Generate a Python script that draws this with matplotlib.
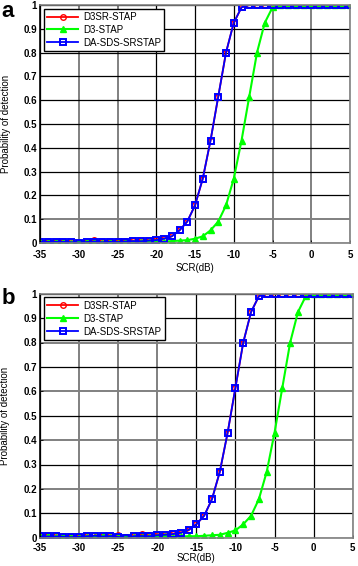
import numpy as np
import matplotlib
matplotlib.use('Agg')
import matplotlib.pyplot as plt

# ---------- data ----------
scr_db = list(range(-35, 6))   # -35 ... 5 dB, step 1

# panel a
a_d3sr = [0.005, 0.005, 0.005, 0.004, 0.003, 0.002, 0.004, 0.012, 0.004, 0.006,
          0.009, 0.010, 0.008, 0.009, 0.010, 0.014, 0.018, 0.028, 0.053, 0.090,
          0.158, 0.270, 0.430, 0.615, 0.800, 0.925, 0.990, 1.0, 1.0, 1.0,
          1.0, 1.0, 1.0, 1.0, 1.0, 1.0, 1.0, 1.0, 1.0, 1.0, 1.0]
a_d3 = [0.005, 0.004, 0.005, 0.003, 0.002, 0.003, 0.006, 0.004, 0.002, 0.003,
        0.002, 0.003, 0.002, 0.003, 0.004, 0.004, 0.006, 0.008, 0.010, 0.012,
        0.018, 0.028, 0.053, 0.090, 0.158, 0.270, 0.430, 0.615, 0.800, 0.925,
        0.990, 1.0, 1.0, 1.0, 1.0, 1.0, 1.0, 1.0, 1.0, 1.0, 1.0]
a_dasds = [0.005, 0.005, 0.005, 0.005, 0.003, 0.002, 0.004, 0.006, 0.003, 0.005,
           0.004, 0.006, 0.008, 0.007, 0.010, 0.012, 0.018, 0.028, 0.053, 0.090,
           0.158, 0.270, 0.430, 0.615, 0.800, 0.925, 0.990, 1.0, 1.0, 1.0,
           1.0, 1.0, 1.0, 1.0, 1.0, 1.0, 1.0, 1.0, 1.0, 1.0, 1.0]

# panel b
b_d3sr = [0.005, 0.005, 0.005, 0.004, 0.002, 0.004, 0.006, 0.003, 0.007, 0.005,
          0.012, 0.004, 0.006, 0.015, 0.010, 0.012, 0.012, 0.015, 0.020, 0.030,
          0.055, 0.090, 0.158, 0.270, 0.430, 0.615, 0.800, 0.925, 0.990, 1.0,
          1.0, 1.0, 1.0, 1.0, 1.0, 1.0, 1.0, 1.0, 1.0, 1.0, 1.0]
b_d3 = [0.005, 0.005, 0.004, 0.005, 0.003, 0.002, 0.004, 0.003, 0.005, 0.004,
        0.003, 0.004, 0.002, 0.004, 0.003, 0.004, 0.005, 0.004, 0.005, 0.006,
        0.006, 0.008, 0.010, 0.012, 0.020, 0.030, 0.055, 0.090, 0.158, 0.270,
        0.430, 0.615, 0.800, 0.925, 0.990, 1.0, 1.0, 1.0, 1.0, 1.0, 1.0]
b_dasds = [0.005, 0.005, 0.005, 0.004, 0.002, 0.004, 0.006, 0.008, 0.005, 0.007,
           0.003, 0.000, 0.006, 0.007, 0.006, 0.010, 0.012, 0.015, 0.020, 0.032,
           0.055, 0.090, 0.158, 0.270, 0.430, 0.615, 0.800, 0.925, 0.990, 1.0,
           1.0, 1.0, 1.0, 1.0, 1.0, 1.0, 1.0, 1.0, 1.0, 1.0, 1.0]

labels = ['D3SR-STAP', 'D3-STAP', 'DA-SDS-SRSTAP']
x_ticks = [-35, -30, -25, -20, -15, -10, -5, 0, 5]
y_ticks = [0, 0.1, 0.2, 0.3, 0.4, 0.5, 0.6, 0.7, 0.8, 0.9, 1]
y_ticklabels = ['0', '0.1', '0.2', '0.3', '0.4', '0.5', '0.6', '0.7', '0.8', '0.9', '1']

# grid lines that came out gray in the exported figure
gray_x = {'a': [-30, -25, -5, 0], 'b': [-30, -25, -20]}
gray_y = {'a': [0.1], 'b': [0.2, 0.4, 0.6, 0.8]}

plt.rcParams['font.family'] = ['Liberation Sans', 'DejaVu Sans']

fig = plt.figure(figsize=(3.58, 5.66), dpi=100)
ax_a = fig.add_axes([40 / 358, 1 - 243 / 566, 310 / 358, 238 / 566])
ax_b = fig.add_axes([40 / 358, 1 - 537.7 / 566, 312.7 / 358, 244 / 566])


def draw_panel(ax, d3sr, d3, dasds, key, xpad, lpad):
    ax.plot(scr_db, d3sr, color='red', lw=1.3, marker='o', ms=4, mfc='none', mew=1.0, label=labels[0])
    ax.plot(scr_db, d3, color='#00ff00', lw=1.5, marker='^', ms=5, mfc='#00ff00', mec='#00ff00', label=labels[1])
    ax.plot(scr_db, dasds, color='#0000ff', lw=1.3, marker='s', ms=5, mfc='none', mew=1.4, label=labels[2])

    ax.set_xlim(-35, 5)
    ax.set_ylim(0, 1)
    ax.set_xticks(x_ticks)
    ax.set_xticklabels([str(t) for t in x_ticks], fontsize=7, fontweight='bold')
    ax.set_yticks(y_ticks)
    ax.set_yticklabels(y_ticklabels, fontsize=7, fontweight='bold')
    ax.tick_params(direction='in', length=2, width=0.6)
    ax.tick_params(axis='x', pad=xpad)
    ax.tick_params(axis='y', pad=2)

    ax.set_xlabel('SCR(dB)', fontsize=7, labelpad=lpad)
    ax.set_ylabel('Probability of detection', fontsize=7)
    ax.yaxis.set_label_coords(-0.095, 0.5)

    ax.grid(True, color='black', lw=0.9)
    ax.set_axisbelow(True)
    for t, gl in zip(x_ticks, ax.get_xgridlines()):
        if t in gray_x[key]:
            gl.set_color('#808080')
            gl.set_linewidth(1.4)
    for t, gl in zip(y_ticks, ax.get_ygridlines()):
        if t in gray_y[key]:
            gl.set_color('#808080')
            gl.set_linewidth(1.4)
    for s in ax.spines.values():
        s.set_color('#808080')
        s.set_linewidth(1.2)
    ax.spines['left'].set_color('black')

    ax.legend(loc='upper left', bbox_to_anchor=(0.012, 0.985), borderaxespad=0,
              fontsize=7, frameon=True, fancybox=False, edgecolor='black',
              framealpha=1, handlelength=3.2, handletextpad=0.5,
              borderpad=0.35, labelspacing=0.3)


draw_panel(ax_a, a_d3sr, a_d3, a_dasds, 'a', 5, 2)
draw_panel(ax_b, b_d3sr, b_d3, b_dasds, 'b', 4, 0)

fig.text(0.004, 0.998, 'a', fontsize=16, fontweight='bold', va='top', ha='left')
fig.text(0.004, 1 - 288 / 566, 'b', fontsize=16, fontweight='bold', va='top', ha='left')

fig.savefig('out.png', dpi=100, facecolor='white')
